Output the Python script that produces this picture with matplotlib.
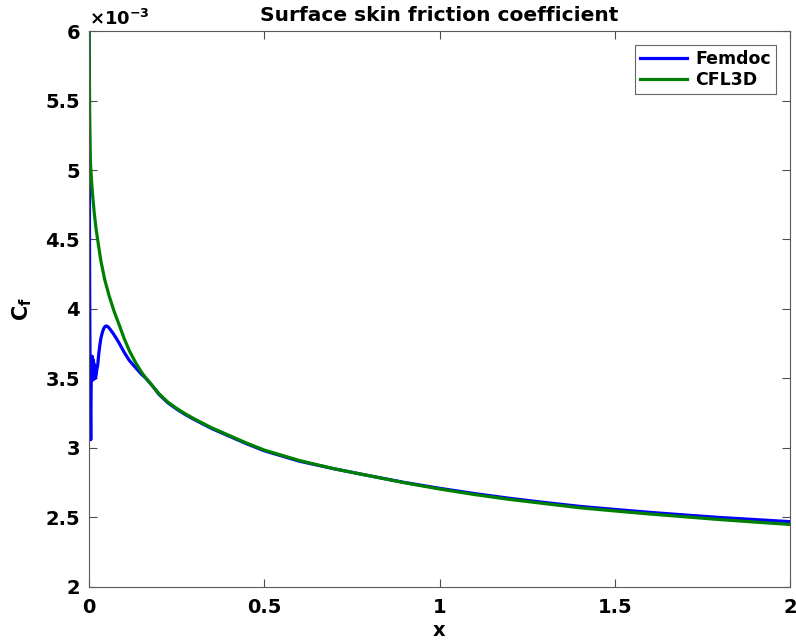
import numpy as np
import matplotlib.pyplot as plt
from matplotlib.ticker import FormatStrFormatter

# CFL3D reference skin friction (units of 1e-3)
x_cfl = [0, 0.0005, 0.001, 0.002, 0.004, 0.007, 0.011, 0.015, 0.02, 0.027,
         0.034, 0.045, 0.058, 0.072, 0.087, 0.1, 0.115, 0.134, 0.15, 0.163,
         0.18, 0.2, 0.225, 0.25, 0.275, 0.3, 0.35, 0.4, 0.45, 0.5, 0.6, 0.7,
         0.8, 0.9, 1.0, 1.1, 1.2, 1.3, 1.4, 1.5, 1.6, 1.7, 1.8, 1.9, 2.0]
cf_cfl = [6.4, 6.0, 5.75, 5.4, 5.06, 4.93, 4.80, 4.69, 4.58, 4.46,
          4.345, 4.21, 4.09, 3.98, 3.88, 3.79, 3.70, 3.61, 3.545, 3.50,
          3.45, 3.39, 3.33, 3.285, 3.245, 3.21, 3.145, 3.09, 3.035, 2.985,
          2.91, 2.85, 2.80, 2.75, 2.705, 2.665, 2.63, 2.60, 2.57, 2.547,
          2.525, 2.505, 2.485, 2.467, 2.45]

# Femdoc skin friction
x_fem = [0, 0.0005, 0.001, 0.0015, 0.002, 0.003, 0.004, 0.005, 0.006, 0.007,
         0.008, 0.009, 0.010, 0.011, 0.012, 0.013, 0.014, 0.015, 0.016, 0.017,
         0.018, 0.020, 0.022, 0.025, 0.028, 0.031, 0.034, 0.038, 0.042, 0.046,
         0.05, 0.055, 0.06, 0.07, 0.08, 0.087, 0.1, 0.115, 0.134, 0.15,
         0.163, 0.18, 0.2, 0.225, 0.25, 0.275, 0.3, 0.35, 0.4, 0.45, 0.5,
         0.6, 0.7, 0.8, 0.9, 1.0, 1.1, 1.2, 1.3, 1.4, 1.5, 1.6, 1.7, 1.8,
         1.9, 2.0]
cf_fem = [6.4, 5.6, 5.0, 4.5, 4.1, 3.6, 3.3, 3.06, 3.4, 3.62,
          3.5, 3.66, 3.52, 3.64, 3.49, 3.62, 3.5, 3.6, 3.5, 3.58,
          3.5, 3.52, 3.56, 3.6, 3.68, 3.74, 3.79, 3.83, 3.86, 3.875,
          3.878, 3.87, 3.855, 3.82, 3.78, 3.75, 3.69, 3.63, 3.575, 3.53,
          3.50, 3.45, 3.385, 3.325, 3.28, 3.24, 3.205, 3.14, 3.085, 3.03, 2.98,
          2.905, 2.85, 2.80, 2.752, 2.71, 2.672, 2.638, 2.608, 2.58, 2.558,
          2.537, 2.518, 2.5, 2.485, 2.47]

plt.rcParams['font.family'] = 'DejaVu Sans'
plt.rcParams['font.weight'] = 'bold'

fig = plt.figure(figsize=(7.96, 6.42), dpi=100)
ax = fig.add_axes([0.1118, 0.0857, 0.8807, 0.866])

ax.plot(x_fem, cf_fem, color=(0, 0, 1), lw=2.3, label='Femdoc')
ax.plot(x_cfl, cf_cfl, color=(0, 0.5, 0), lw=2.3, label='CFL3D')

ax.set_xlim(0, 2)
ax.set_ylim(2, 6)
ax.set_xticks([0, 0.5, 1, 1.5, 2])
ax.set_yticks(np.arange(2, 6.01, 0.5))
ax.xaxis.set_major_formatter(FormatStrFormatter('%g'))
ax.yaxis.set_major_formatter(FormatStrFormatter('%g'))
ax.text(0.0, 1.004, r'$\times\mathbf{10^{-3}}$', transform=ax.transAxes,
        fontsize=13, ha='left', va='bottom')

ax.tick_params(direction='in', top=True, right=True, labelsize=14,
               length=6, color='0.3')
ax.tick_params(axis='x', pad=8)
ax.tick_params(axis='y', pad=6.5)
for s in ax.spines.values():
    s.set_color('0.35')
    s.set_linewidth(0.8)

ax.set_xlabel('x', fontsize=14, fontweight='bold', labelpad=3)
ax.set_ylabel(r'$\mathbf{C_f}$', fontsize=15, labelpad=8)
ax.set_title('Surface skin friction coefficient', fontsize=14.5, fontweight='bold', pad=7)

leg = ax.legend(loc='upper right', fontsize=12.5, fancybox=False, framealpha=1,
                edgecolor='0.4', handlelength=2.7, borderaxespad=0.8,
                labelspacing=0.15, borderpad=0.3, handletextpad=0.5)
leg.get_frame().set_linewidth(0.8)

fig.savefig('out.png', dpi=100)
